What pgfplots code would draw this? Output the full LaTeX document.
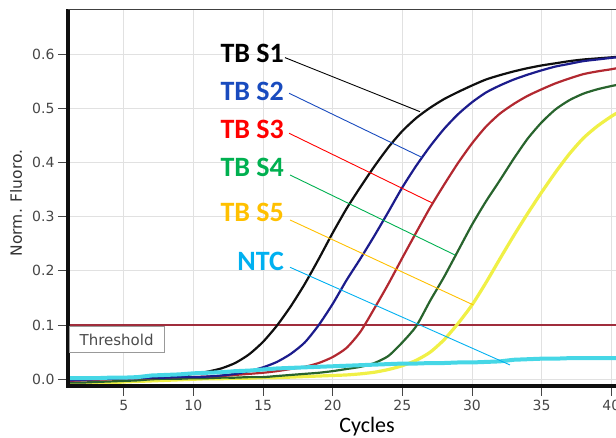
\documentclass[border=0pt]{standalone}
\usepackage{fontspec}
\usepackage{pgfplots}
\usepackage{pgfplotstable}
\pgfplotsset{compat=1.18}
\newfontfamily\dejavu{DejaVu Sans}
\newfontfamily\carlito{Carlito}
\definecolor{kcol}{RGB}{15,15,15}
\definecolor{bcol}{RGB}{28,28,140}
\definecolor{rcol}{RGB}{178,40,48}
\definecolor{gcol}{RGB}{40,100,45}
\definecolor{ycol}{RGB}{240,240,70}
\definecolor{ccol}{RGB}{70,215,230}
\definecolor{thrcol}{RGB}{160,45,60}
\definecolor{tickgray}{RGB}{70,70,70}
\definecolor{gridgray}{RGB}{225,225,225}
\definecolor{lblue}{RGB}{25,75,190}
\definecolor{lred}{RGB}{255,0,0}
\definecolor{lgreen}{RGB}{0,176,80}
\definecolor{lgold}{RGB}{255,192,0}
\definecolor{lcyan}{RGB}{0,176,240}

\pgfplotstableread{
c s1 s2 s3 s4 s5 ntc
1 0.000 -0.002 -0.003 -0.006 -0.008 0.002
2 0.000 -0.001 -0.002 -0.006 -0.008 0.002
3 0.001 0.000 -0.001 -0.005 -0.008 0.002
4 0.001 0.001 0.000 -0.004 -0.007 0.003
5 0.002 0.002 0.001 -0.003 -0.005 0.003
6 0.003 0.002 0.002 -0.002 -0.004 0.004
7 0.003 0.003 0.002 0.000 -0.003 0.007
8 0.004 0.003 0.003 0.001 -0.002 0.008
9 0.006 0.004 0.004 0.001 -0.001 0.009
10 0.010 0.004 0.004 0.002 0.000 0.011
11 0.014 0.005 0.005 0.002 0.001 0.012
12 0.020 0.007 0.006 0.003 0.001 0.013
13 0.030 0.010 0.008 0.003 0.002 0.015
14 0.046 0.015 0.010 0.004 0.002 0.016
15 0.069 0.022 0.012 0.004 0.003 0.018
16 0.099 0.032 0.015 0.006 0.003 0.020
17 0.135 0.047 0.019 0.008 0.004 0.021
18 0.176 0.068 0.023 0.010 0.005 0.022
19 0.222 0.100 0.030 0.012 0.006 0.023
20 0.270 0.139 0.041 0.015 0.007 0.024
21 0.315 0.183 0.058 0.019 0.008 0.025
22 0.355 0.223 0.088 0.023 0.010 0.026
23 0.393 0.265 0.131 0.030 0.013 0.027
24 0.428 0.309 0.176 0.043 0.018 0.028
25 0.458 0.354 0.224 0.068 0.025 0.029
26 0.482 0.394 0.271 0.098 0.035 0.029
27 0.501 0.430 0.317 0.145 0.050 0.030
28 0.517 0.462 0.359 0.189 0.073 0.030
29 0.530 0.489 0.399 0.237 0.103 0.031
30 0.542 0.511 0.435 0.285 0.137 0.031
31 0.553 0.529 0.466 0.328 0.178 0.032
32 0.561 0.542 0.490 0.367 0.222 0.033
33 0.568 0.553 0.508 0.407 0.265 0.036
34 0.574 0.562 0.523 0.444 0.306 0.037
35 0.579 0.570 0.535 0.474 0.345 0.038
36 0.583 0.577 0.546 0.498 0.382 0.038
37 0.587 0.582 0.555 0.515 0.416 0.039
38 0.590 0.587 0.563 0.527 0.445 0.039
39 0.592 0.590 0.568 0.535 0.467 0.039
40 0.594 0.593 0.572 0.541 0.485 0.039
40.4 0.595 0.594 0.574 0.543 0.491 0.039
}\qpcr

\pgfplotstableread{
c y
1 0.1
41 0.1
}\thr

\begin{document}
\begin{tikzpicture}
\useasboundingbox (0,0) rectangle (616pt,438pt);
\begin{axis}[
  at={(68pt,52pt)}, anchor=south west,
  scale only axis, width=557.2pt, height=376.7pt,
  xmin=1, xmax=41, ymin=-0.0124, ymax=0.6826,
  xtick={5,10,15,20,25,30,35,40},
  ytick={0,0.1,0.2,0.3,0.4,0.5,0.6},
  xtick pos=bottom, ytick pos=left,
  tick align=outside, major tick length=10pt,
  tick style={tickgray, line width=0.8pt},
  /pgf/number format/assume math mode=true,
  tick label style={font=\dejavu\fontsize{14}{16}\selectfont, text=tickgray},
  yticklabel style={/pgf/number format/.cd, fixed, fixed zerofill, precision=1},
  xticklabel style={yshift=-1pt},
  grid=major, major grid style={gridgray, line width=0.8pt},
  axis line style={draw=none},
  clip=false,
]
\addplot[thrcol, line width=1.3pt] table[x=c,y=y]{\thr};
\addplot[ycol, line width=3.2pt, line join=round, smooth, tension=0.4] table[x=c,y=s5]{\qpcr};
\addplot[gcol, line width=2.2pt, line join=round, smooth, tension=0.4] table[x=c,y=s4]{\qpcr};
\addplot[rcol, line width=2.2pt, line join=round, smooth, tension=0.4] table[x=c,y=s3]{\qpcr};
\addplot[kcol, line width=2.2pt, line join=round, smooth, tension=0.4] table[x=c,y=s1]{\qpcr};
\addplot[bcol, line width=2.2pt, line join=round, smooth, tension=0.4] table[x=c,y=s2]{\qpcr};
\addplot[ccol, line width=4pt, line join=round] table[x=c,y=ntc]{\qpcr};

\draw[kcol, line width=4pt] (rel axis cs:0,1) -- (rel axis cs:0,0) -- (rel axis cs:1,0);
\draw[black!75, line width=1.3pt] (rel axis cs:0,1) -- (rel axis cs:1,1);

\node[draw=black!40, line width=0.8pt, fill=white, anchor=north west, minimum width=95pt, minimum height=26pt, inner sep=0pt,
  font=\dejavu\fontsize{15}{17}\selectfont, text=black!70] at (axis cs:1.05,0.098) {Threshold};

\begin{scope}[font=\carlito\bfseries\fontsize{28}{30}\selectfont]
\node[anchor=east, inner sep=0pt, text=black] at (axis cs:16.51,0.602) {TB S1};
\node[anchor=east, inner sep=0pt, text=lblue] at (axis cs:16.51,0.5319) {TB S2};
\node[anchor=east, inner sep=0pt, text=lred] at (axis cs:16.51,0.4618) {TB S3};
\node[anchor=east, inner sep=0pt, text=lgreen] at (axis cs:16.51,0.3907) {TB S4};
\node[anchor=east, inner sep=0pt, text=lgold] at (axis cs:16.51,0.3087) {TB S5};
\node[anchor=east, inner sep=0pt, text=lcyan] at (axis cs:16.51,0.2183) {NTC};
\end{scope}
\draw[black, line width=0.9pt] (axis cs:16.58,0.5934) -- (axis cs:26.27,0.4937);
\draw[lblue, line width=0.9pt] (axis cs:16.87,0.5277) -- (axis cs:26.39,0.4096);
\draw[lred, line width=0.9pt] (axis cs:16.87,0.4539) -- (axis cs:27.11,0.3258);
\draw[lgreen, line width=0.9pt] (axis cs:16.94,0.3769) -- (axis cs:28.78,0.2293);
\draw[lgold, line width=0.9pt] (axis cs:16.94,0.2939) -- (axis cs:30.10,0.1371);
\draw[lcyan, line width=0.9pt] (axis cs:16.94,0.2066) -- (axis cs:32.73,0.0264);
\end{axis}
\node[rotate=90, font=\dejavu\fontsize{15.5}{17}\selectfont, text=black!80] at (16pt,235pt) {Norm. Fluoro.};
\node[anchor=base, font=\carlito\fontsize{22}{24}\selectfont, text=black] at (367pt,5pt) {Cycles};
\end{tikzpicture}
\end{document}
